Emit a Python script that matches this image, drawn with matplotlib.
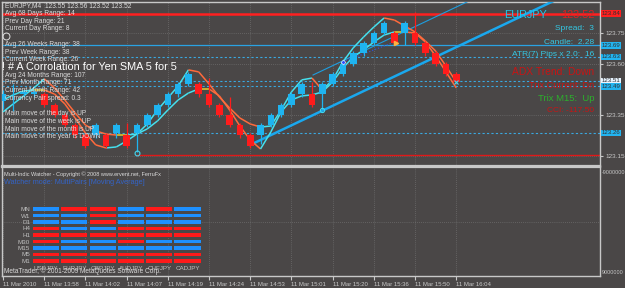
"""EURJPY M4 chart with the multi-pair watcher panel underneath."""
import numpy as np
import matplotlib
matplotlib.use("Agg")
import matplotlib.pyplot as plt
from matplotlib.collections import LineCollection
from matplotlib.transforms import blended_transform_factory

plt.rcParams['font.family'] = ['Liberation Sans', 'DejaVu Sans']

W, H = 625, 288
BG = '#4a4747'
TXT = '#dcdcdc'
UP = '#1fb4f0'
DN = '#ff1c1c'

# ---- price data (one entry per bar) ----
opens = [123.42, 123.45, 123.45, 123.45, 123.45, 123.40, 123.35, 123.30, 123.25, 123.25,
         123.25, 123.26, 123.25, 123.26, 123.30, 123.35, 123.40, 123.45, 123.50, 123.50,
         123.45, 123.40, 123.35, 123.30, 123.25, 123.25, 123.30, 123.35, 123.40, 123.45,
         123.45, 123.45, 123.50, 123.55, 123.60, 123.65, 123.70, 123.75, 123.75, 123.75,
         123.75, 123.70, 123.65, 123.60, 123.55]
closes = [123.45, 123.45, 123.46, 123.46, 123.40, 123.35, 123.30, 123.25, 123.20, 123.30,
          123.20, 123.30, 123.20, 123.30, 123.35, 123.40, 123.45, 123.50, 123.55, 123.45,
          123.40, 123.35, 123.30, 123.25, 123.20, 123.30, 123.35, 123.40, 123.45, 123.50,
          123.40, 123.50, 123.55, 123.60, 123.65, 123.70, 123.75, 123.80, 123.70, 123.80,
          123.70, 123.65, 123.60, 123.55, 123.51]
highs = [123.47, 123.50, 123.47, 123.47, 123.46, 123.41, 123.36, 123.31, 123.26, 123.31,
         123.26, 123.31, 123.31, 123.31, 123.36, 123.41, 123.46, 123.51, 123.56, 123.51,
         123.53, 123.41, 123.44, 123.31, 123.26, 123.31, 123.36, 123.41, 123.46, 123.51,
         123.51, 123.51, 123.56, 123.61, 123.66, 123.71, 123.76, 123.81, 123.76, 123.81,
         123.85, 123.71, 123.66, 123.61, 123.56]
lows = [123.38, 123.37, 123.44, 123.44, 123.39, 123.34, 123.29, 123.24, 123.19, 123.24,
        123.19, 123.24, 123.19, 123.17, 123.29, 123.34, 123.39, 123.44, 123.49, 123.44,
        123.39, 123.34, 123.29, 123.24, 123.19, 123.21, 123.29, 123.34, 123.39, 123.44,
        123.39, 123.375, 123.49, 123.54, 123.59, 123.64, 123.69, 123.74, 123.69, 123.69,
        123.69, 123.64, 123.59, 123.54, 123.50]

# two moving averages (coloured by slope)
ma_fast = [123.365, 123.404, 123.443, 123.482, 123.526, 123.482, 123.423, 123.360, 123.301, 123.272,
           123.257, 123.252, 123.252, 123.257, 123.306, 123.374, 123.433, 123.491, 123.570, 123.560,
           123.501, 123.438, 123.384, 123.335, 123.306, 123.291, 123.296, 123.374, 123.462, 123.521,
           123.530, 123.472, 123.521, 123.609, 123.677, 123.730, 123.779, 123.823, 123.813, 123.784,
           123.755, 123.711, 123.662, 123.589, 123.511]
ma_slow = [123.423, 123.448, 123.467, 123.472, 123.472, 123.452, 123.404, 123.335, 123.262, 123.204,
           123.189, 123.194, 123.223, 123.257, 123.282, 123.321, 123.374, 123.423, 123.457, 123.477,
           123.477, 123.443, 123.374, 123.296, 123.228, 123.184, 123.267, 123.365, 123.423, 123.443,
           123.448, 123.462, 123.511, 123.579, 123.633, 123.667, 123.706, 123.740, 123.755, 123.755,
           123.750, 123.706, 123.638, 123.560, 123.482]

time_ticks = [0, 4, 8, 12, 16, 20, 24, 28, 32, 36, 40, 44]
time_labels = ['11 Mar 2010', '11 Mar 13:58', '11 Mar 14:02', '11 Mar 14:07', '11 Mar 14:19',
               '11 Mar 14:24', '11 Mar 14:53', '11 Mar 15:01', '11 Mar 15:20', '11 Mar 15:36',
               '11 Mar 15:50', '11 Mar 16:04']
price_ticks = [123.75, 123.60, 123.35, 123.15]

# horizontal levels
red_levels = [123.843, 123.155]
red_starts = [-0.1, 13]
blue_solid = 123.69
blue_dotted = [123.633, 123.516, 123.49, 123.262]
level_labels = ['123.84', '123.69', '123.63', '123.51', '123.49', '123.26']
level_prices = [123.843, 123.69, 123.633, 123.516, 123.49, 123.262]
level_colors = ['#ff2020', '#22b4f0', '#22b4f0', '#e8f4ff', '#22b4f0', '#22b4f0']

# trend lines (start point, end point)
trend_thick = [(24.0, 123.204), (54.0, 123.919)]
trend_thin = [(30.1, 123.545), (46.0, 123.924)]

info_left = ['Avg 68 Days Range: 14', 'Prev Day Range: 21', 'Current Day Range: 8', '',
             'Avg 26 Weeks Range: 38', 'Prev Week Range: 38', 'Current Week Range: 26', '',
             'Avg 24 Months Range: 107', 'Prev Month Range: 71', 'Current Month Range: 42',
             'Currency Pair spread: 0.3', '', 'Main move of the day is UP',
             'Main move of the week is UP', 'Main move of the month is UP',
             'Main move of the year is DOWN']

# multi-pair watcher
pairs = ['USDJPY', 'EURJPY', 'GBPJPY', 'AUDJPY', 'CHFJPY', 'CADJPY']
frames = ['MN', 'W1', 'D1', 'H4', 'H1', 'M30', 'M15', 'M5', 'M1']
signals = [[1, 0, 0, 1, 0, 1],
           [1, 1, 0, 1, 1, 1],
           [1, 1, 0, 1, 1, 1],
           [0, 1, 1, 0, 0, 0],
           [0, 0, 0, 0, 0, 0],
           [0, 1, 1, 0, 1, 1],
           [1, 1, 1, 1, 1, 1],
           [0, 0, 0, 0, 0, 0],
           [0, 0, 0, 0, 0, 0]]


def rect(x0, y0, x1, y1):
    return [x0 / W, 1 - y1 / H, (x1 - x0) / W, (y1 - y0) / H]


def fx(x):
    return x / W


def fy(y):
    return 1 - y / H


def slope_lines(ax, values, lw=1.1):
    x = np.arange(len(values))
    v = np.array(values)
    segs, cols = [], []
    for i in range(len(v) - 1):
        d = v[i + 1] - v[i]
        segs.append([(x[i], v[i]), (x[i + 1], v[i + 1])])
        if d > 0.004:
            cols.append('#45e0ee')
        elif d < -0.004:
            cols.append('#ff6a3c')
        else:
            cols.append('#e8cc2c')
    ax.add_collection(LineCollection(segs, colors=cols, linewidths=lw, zorder=4))


fig = plt.figure(figsize=(W / 100, H / 100), dpi=100, facecolor=BG)

# ---------------- main price panel ----------------
ax = fig.add_axes(rect(2, 2, 600, 166), facecolor=BG)
ax.set_xlim(-0.1, 57.96)
ax.set_ylim(123.101, 123.901)
for s in ax.spines.values():
    s.set_color('#c8c8c8')
    s.set_linewidth(1.0)
ax.spines['bottom'].set_linewidth(1.6)

ax.yaxis.tick_right()
ax.set_yticks(price_ticks)
ax.set_yticklabels(['%.2f' % p for p in price_ticks])
ax.tick_params(axis='y', colors='#c8c8c8', labelsize=4.6, length=2.5, pad=1.5)
ax.set_xticks(time_ticks)
ax.tick_params(axis='x', length=0, labelbottom=False)
ax.grid(True, color='#7c7c7c', linestyle=(0, (1, 2)), linewidth=0.5)

# levels
for p, x0 in zip(red_levels, red_starts):
    ax.plot([x0, 58], [p, p], color='#ff2020' if p > 123.5 else '#e01818',
            lw=1.8 if p > 123.5 else 1.0, zorder=2)
ax.axhline(blue_solid, color='#2aa2e2', lw=0.9, zorder=2)
for p in blue_dotted:
    ax.axhline(p, color='#3aa8e0', lw=0.8, linestyle=(0, (2, 2)), zorder=2)

# trend lines
ax.plot(*zip(*trend_thick), color='#1aa8ee', lw=1.8, zorder=3)
ax.plot(*zip(*trend_thin), color='#1e9ee0', lw=0.8, zorder=3)
ax.plot([33, 38], [123.609, 123.706], color='#3050d8', lw=0.9, linestyle=(0, (1, 1.5)), zorder=3)

# candles
idx = np.arange(len(opens))
for i in idx:
    o, c = opens[i], closes[i]
    col = UP if c >= o else DN
    ax.vlines(i, lows[i], highs[i], color=col, lw=0.9, zorder=5)
    ax.bar(i, max(abs(c - o), 0.004), bottom=min(o, c), width=0.64, color=col, zorder=5)

slope_lines(ax, ma_fast)
slope_lines(ax, ma_slow)

# small markers
ax.plot([13], [123.165], marker='o', ms=3.5, mfc='none', mec='#40d8f0', mew=0.8, zorder=6)
ax.plot([31], [123.375], marker='o', ms=3, mfc='none', mec='#40d8f0', mew=0.8, zorder=6)
ax.plot([33], [123.609], marker='D', ms=2.5, color='#3050ff', mec='white', mew=0.4, zorder=6)
ax.plot([38.2], [123.70], marker='>', ms=3, color='#ffb040', zorder=6)
ax.plot([44], [123.51], marker='x', ms=3, color='#40d8f0', mew=0.8, zorder=6)
ax.plot([0.3], [123.735], marker='o', ms=5, mfc='none', mec='#e0e0e0', mew=0.7, zorder=6)

# right side level boxes
tr = blended_transform_factory(fig.transFigure, ax.transData)
for lab, p, col in zip(level_labels, level_prices, level_colors):
    ax.text(fx(601.5), p, lab, transform=tr, fontsize=4.4, color='#303030', va='center',
            ha='left', clip_on=False,
            bbox=dict(boxstyle='square,pad=0.15', fc=col, ec='none'))

# left info block
fig.text(fx(5), fy(6), 'EURJPY,M4  123.55 123.56 123.52 123.52', fontsize=4.8, color=TXT, va='center')
for k, line in enumerate(info_left):
    if line:
        fig.text(fx(5), fy(13.5 + k * 7.7), line, fontsize=4.8, color=TXT, va='center')
fig.text(fx(2), fy(67), '! # A Corrolation for Yen SMA 5 for 5', fontsize=7.8, color='white', va='center')

# right info block
fig.text(fx(547), fy(15), 'EURJPY', fontsize=7.8, color='#1ec8f0', ha='right', va='center')
fig.text(fx(595), fy(15), '123.52', fontsize=7.8, color='#e02020', ha='right', va='center')
right_info = [('Spread:  3', '#34c8e4', 6.0, 28.5), ('Candle:  2.28', '#34c8e4', 6.0, 42),
              ('ATR(7) Pips x 2.0:  16', '#34c8e4', 6.0, 55), ('ADX Trend: Down', '#c81414', 7.4, 72),
              ('Trix Current: Dn', '#c81414', 6.6, 86), ('Trix M15:  Up', '#2cb02c', 6.8, 98.5),
              ('CCI: -117.50', '#c81414', 6.0, 110.5)]
for txt, col, fs, y in right_info:
    fig.text(fx(594), fy(y), txt, fontsize=fs, color=col, ha='right', va='center')

# ---------------- indicator panel ----------------
ax2 = fig.add_axes(rect(2, 167, 600, 276), facecolor=BG)
ax2.set_xlim(-0.1, 57.96)
ax2.set_ylim(0, 1)
for s in ax2.spines.values():
    s.set_color('#c8c8c8')
    s.set_linewidth(1.0)
ax2.spines['top'].set_linewidth(1.6)
ax2.set_xticks(time_ticks)
ax2.set_xticklabels(time_labels, ha='left')
ax2.tick_params(axis='x', colors='#c8c8c8', labelsize=4.3, length=3, pad=1.5)
ax2.yaxis.tick_right()
ax2.set_yticks([0.5])
ax2.set_yticklabels([''])
ax2.tick_params(axis='y', length=0)
ax2.grid(True, color='#7c7c7c', linestyle=(0, (1, 2)), linewidth=0.5)
fig.text(fx(601.5), fy(173), '-9000000', fontsize=3.9, color='#c8c8c8', va='center')
fig.text(fx(601.5), fy(273), '9000000', fontsize=3.9, color='#c8c8c8', va='center')

fig.text(fx(4), fy(174), 'Multi-Indic Watcher - Copyright \u00a9 2008 www.ervent.net, FerruFx',
         fontsize=4.0, color=TXT, va='center')
fig.text(fx(4), fy(183), 'Watcher mode: MultiPairs [Moving Average]', fontsize=5.2,
         color='#3464c8', va='center')

ax3 = fig.add_axes(rect(31.85, 205.75, 201.65, 264.25))
ax3.set_facecolor('none')
ax3.set_xlim(-0.5, 5.5)
ax3.set_ylim(8.5, -0.5)
for r, row in enumerate(signals):
    for c, v in enumerate(row):
        ax3.barh(r, 0.92, left=c - 0.46, height=0.52, color='#1e90ff' if v else '#ff1a1a')
for s in ax3.spines.values():
    s.set_visible(False)
ax3.set_yticks(range(len(frames)))
ax3.set_yticklabels(frames)
ax3.set_xticks(range(len(pairs)))
ax3.set_xticklabels(pairs)
ax3.tick_params(colors='#c0c0c0', labelsize=4.5, length=0, pad=1.2)

fig.text(fx(4), fy(271.5), 'MetaTrader, \u00a9 2001-2009 MetaQuotes Software Corp.', fontsize=4.7,
         color=TXT, va='center')

fig.savefig('out.png', dpi=100, facecolor=BG)
